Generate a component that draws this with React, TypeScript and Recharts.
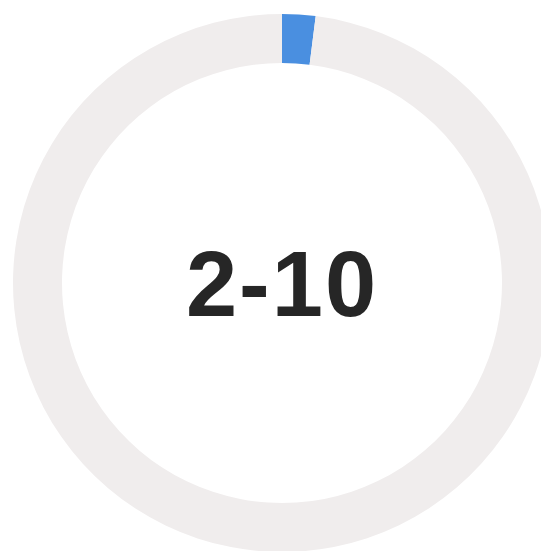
import React from 'react';
import { PieChart, Pie, Cell, Label } from 'recharts';

const segmentNames = ['filled', 'remaining'];
const segmentValues = [2, 98];
const segmentColors = ['#4a8fe0', '#f0eded'];
const centerLabel = '2-10';

const data = segmentNames.map((name, i) => ({ name, value: segmentValues[i] }));

export default function App() {
  return (
    <div style={{ position: 'absolute', left: 0, top: 0, width: 541, height: 551, overflow: 'hidden', background: '#ffffff' }}>
      <PieChart width={541} height={551} margin={{ top: 0, right: 0, bottom: 0, left: 0 }}>
        <Pie
          data={data}
          dataKey="value"
          nameKey="name"
          cx={282}
          cy={283}
          innerRadius={220}
          outerRadius={269}
          startAngle={90}
          endAngle={-270}
          stroke="none"
          isAnimationActive={false}
        >
          {data.map((d, i) => (
            <Cell key={d.name} fill={segmentColors[i]} />
          ))}
          <Label
            position="center"
            content={() => (
              <text
                x={282}
                y={284}
                textAnchor="middle"
                dominantBaseline="central"
                style={{ fontFamily: '"Liberation Sans", Arial, sans-serif', fontWeight: 700, fontSize: 92, letterSpacing: 2, fill: '#262626' }}
              >
                {centerLabel}
              </text>
            )}
          />
        </Pie>
      </PieChart>
    </div>
  );
}
